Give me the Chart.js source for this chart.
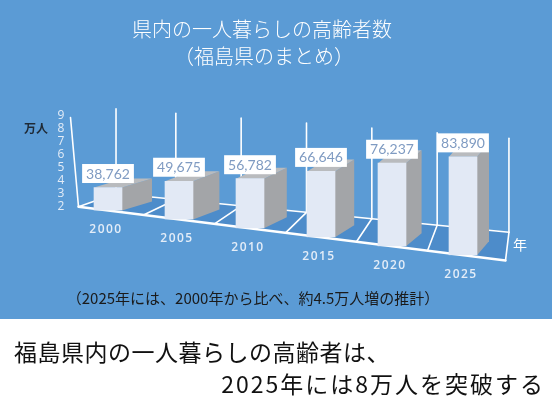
<!DOCTYPE html>
<html>
<head>
<meta charset="utf-8">
<script src="https://cdn.jsdelivr.net/npm/chart.js@4/dist/chart.umd.min.js"></script>
<style>
html,body{margin:0;padding:0;background:#fff;}
#wrap{width:552px;height:413px;position:relative;}
</style>
</head>
<body>
<div id="wrap"><canvas id="c" width="552" height="413"></canvas></div>
<script>
// ---- data ----
const categories = ['2000', '2005', '2010', '2015', '2020', '2025'];
const values = [38762, 49675, 56782, 66646, 76237, 83890];
const yTickValues = [20000, 30000, 40000, 50000, 60000, 70000, 80000, 90000];
const yTickLabels = ['2', '3', '4', '5', '6', '7', '8', '9'];
const yUnit = '万人';
const xUnit = '年';
const titleLines = ['県内の一人暮らしの高齢者数', '（福島県のまとめ）'];
const noteText = '（2025年には、2000年から比べ、約4.5万人増の推計）';
const captionLines = ['福島県内の一人暮らしの高齢者は、', '2025年には8万人を突破する'];

// ---- styling constants ----
const BLUE = '#5b9bd5';
const FLOOR = '#4d8cca';
const SLOPE = 0.126;
const CJK = "'Noto Sans CJK JP', sans-serif";

function geo(chart) {
  const a = chart.chartArea;
  const L = a.left, R = a.right, B = a.bottom, T = a.top;
  const t = x => (x - L) / (R - L);
  return {
    L, R, B, T, t,
    fy: x => B + SLOPE * (x - L),
    fdx: x => 38 - 34 * t(x),
    fdy: x => 13 + 15 * t(x),
    persp: x => 0.922 + 0.293 * t(x),
    bdx: x => 31.8 - 21.6 * t(x),
    bdy: x => 8.5 + 6 * t(x),
    wallTop: x => T - 10 + 0.075 * (x - L)
  };
}

const scene = {
  id: 'scene',
  beforeDraw(chart) {
    const { ctx, width, height } = chart;
    ctx.save();
    ctx.fillStyle = BLUE;
    ctx.fillRect(0, 0, width, 319);
    ctx.fillStyle = '#ffffff';
    ctx.fillRect(0, 319, width, height - 319);
    ctx.fillStyle = '#ffffff';
    ctx.textAlign = 'center';
    ctx.textBaseline = 'middle';
    ctx.font = '300 20px ' + CJK;
    ctx.fillText(titleLines[0], 262, 29);
    ctx.fillText(titleLines[1], 264, 56);
    ctx.restore();
  },
  beforeDatasetsDraw(chart) {
    const { ctx } = chart;
    const g = geo(chart);
    const xs = chart.scales.x;
    const ys = chart.scales.y;
    const FL = g.L + 6, FR = g.R + 7;
    const back = x => [x + g.fdx(x), g.fy(x) - g.fdy(x)];
    ctx.save();
    // y tick labels from the value scale
    ctx.font = "12px 'Open Sans', sans-serif";
    ctx.fillStyle = '#e3ecf7';
    ctx.textAlign = 'center';
    ctx.textBaseline = 'middle';
    yTickValues.forEach((v, i) => {
      ctx.fillText(yTickLabels[i], 61, ys.getPixelForValue(v) + 0.5);
    });
    // floor
    const bl = back(FL), br = back(FR);
    ctx.beginPath();
    ctx.moveTo(FL, g.fy(FL));
    ctx.lineTo(FR, g.fy(FR));
    ctx.lineTo(br[0], br[1]);
    ctx.lineTo(bl[0], bl[1]);
    ctx.closePath();
    ctx.fillStyle = FLOOR;
    ctx.fill();
    ctx.strokeStyle = '#ffffff';
    ctx.lineCap = 'round';
    const bounds = [FL];
    for (let i = 0; i < categories.length - 1; i++) {
      bounds.push((xs.getPixelForValue(i) + xs.getPixelForValue(i + 1)) / 2);
    }
    bounds.push(FR);
    ctx.lineWidth = 1.6;
    bounds.forEach(xb => {
      const p = back(xb);
      ctx.beginPath();
      ctx.moveTo(xb, g.fy(xb));
      ctx.lineTo(p[0], p[1]);
      ctx.stroke();
      ctx.beginPath();
      ctx.moveTo(p[0], p[1]);
      ctx.lineTo(p[0], g.wallTop(p[0]));
      ctx.stroke();
    });
    ctx.beginPath();
    ctx.moveTo(bl[0], bl[1]);
    ctx.lineTo(br[0], br[1]);
    ctx.stroke();
    ctx.beginPath();
    ctx.moveTo(FL, g.fy(FL));
    ctx.lineTo(FL - 8, g.T + 2);
    ctx.stroke();
    ctx.lineWidth = 2.4;
    ctx.beginPath();
    ctx.moveTo(FL, g.fy(FL));
    ctx.lineTo(FR, g.fy(FR));
    ctx.stroke();
    ctx.restore();
  },
  beforeDatasetDraw() {
    return false;
  },
  afterDatasetsDraw(chart) {
    const { ctx } = chart;
    const g = geo(chart);
    const meta = chart.getDatasetMeta(0);
    const tops = [];
    meta.data.forEach((el, i) => {
      const p = el.getProps(['x', 'y', 'base', 'width'], true);
      const xc = p.x, w = p.width;
      const base = Math.min(p.base, g.B);
      const f = g.persp(xc);
      const shift = SLOPE * (xc - g.L);
      const sy = y => g.B + f * (y - g.B) + shift;
      const ty = sy(p.y), by = sy(base);
      const xl = xc - w / 2, xr = xc + w / 2;
      const dx = g.bdx(xc), dy = g.bdy(xc);
      ctx.save();
      ctx.beginPath();
      ctx.moveTo(xr, ty);
      ctx.lineTo(xr + dx, ty - dy);
      ctx.lineTo(xr + dx, by - dy);
      ctx.lineTo(xr, by);
      ctx.closePath();
      ctx.fillStyle = '#a3a5a8';
      ctx.fill();
      ctx.beginPath();
      ctx.moveTo(xl, ty);
      ctx.lineTo(xl + dx, ty - dy);
      ctx.lineTo(xr + dx, ty - dy);
      ctx.lineTo(xr, ty);
      ctx.closePath();
      ctx.fillStyle = '#b9bbbe';
      ctx.fill();
      ctx.beginPath();
      ctx.rect(xl - 2, ty - 2, w + 4, by - ty + 2);
      ctx.clip();
      ctx.transform(1, 0, 0, f, 0, g.B * (1 - f) + shift);
      el.draw(ctx);
      ctx.restore();
      tops.push([xc, ty, by]);
    });
    ctx.save();
    ctx.font = "14px 'Liberation Sans Narrow', 'Lato', sans-serif";
    ctx.textAlign = 'center';
    ctx.textBaseline = 'middle';
    tops.forEach(([xc, ty], i) => {
      const txt = values[i].toLocaleString('en-US');
      const tw = ctx.measureText(txt).width;
      const bw = tw + 8, bh = 19;
      const cy = ty - 14;
      ctx.fillStyle = '#ffffff';
      ctx.fillRect(xc - bw / 2, cy - bh / 2, bw, bh);
      ctx.fillStyle = '#7f9bc2';
      ctx.fillText(txt, xc, cy + 0.5);
    });
    ctx.restore();
    chart.$tops = tops;
  },
  afterDraw(chart) {
    const { ctx } = chart;
    const tops = chart.$tops || [];
    ctx.save();
    ctx.font = "600 12px 'Open Sans', sans-serif";
    ctx.letterSpacing = '1.5px';
    ctx.fillStyle = '#e4edf8';
    ctx.textAlign = 'center';
    ctx.textBaseline = 'middle';
    tops.forEach(([xc, ty, by], i) => {
      ctx.fillText(categories[i], xc - 2, by + 19);
    });
    ctx.letterSpacing = '0px';
    ctx.font = 'bold 12px ' + CJK;
    ctx.fillStyle = '#1f2a36';
    ctx.fillText(yUnit, 36, 128);
    ctx.font = '14px ' + CJK;
    ctx.fillStyle = '#ffffff';
    ctx.fillText(xUnit, 520, 245);
    ctx.font = '15px ' + CJK;
    ctx.fillStyle = '#1a1a1a';
    ctx.fillText(noteText, 253, 298);
    ctx.font = '23px ' + CJK;
    ctx.fillStyle = '#111111';
    ctx.letterSpacing = '0.5px';
    ctx.textAlign = 'left';
    ctx.fillText(captionLines[0], 14, 352);
    ctx.letterSpacing = '2px';
    ctx.textAlign = 'right';
    ctx.fillText(captionLines[1], 545, 384);
    ctx.restore();
  }
};

new Chart(document.getElementById('c'), {
  type: 'bar',
  data: {
    labels: categories,
    datasets: [{
      data: values,
      base: yTickValues[0],
      backgroundColor: '#e2e9f5',
      borderWidth: 0,
      barThickness: 28
    }]
  },
  options: {
    responsive: false,
    animation: false,
    events: [],
    layout: { padding: { left: 72.5, right: 53.5, top: 115.5, bottom: 207 } },
    plugins: { legend: { display: false }, tooltip: { enabled: false }, title: { display: false } },
    scales: {
      x: { display: false, grid: { display: false } },
      y: {
        display: false,
        min: yTickValues[0],
        max: yTickValues[yTickValues.length - 1]
      }
    }
  },
  plugins: [scene]
});
</script>
</body>
</html>
